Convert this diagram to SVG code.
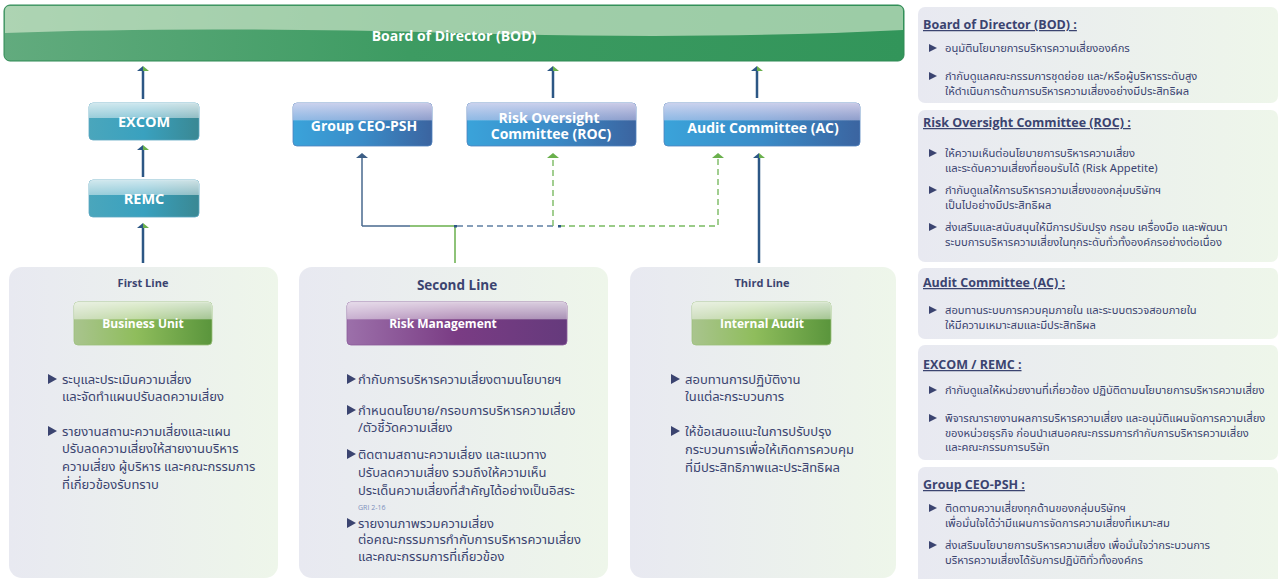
<svg xmlns="http://www.w3.org/2000/svg" width="1281" height="579" viewBox="0 0 1281 579">
  <defs>
    <linearGradient id="gBod" x1="0" y1="0" x2="1" y2="0">
      <stop offset="0" stop-color="#62ab7e"/>
      <stop offset="0.45" stop-color="#3d9b62"/>
      <stop offset="1" stop-color="#32955a"/>
    </linearGradient>
    <linearGradient id="gTeal" x1="0" y1="0" x2="1" y2="0">
      <stop offset="0" stop-color="#4aa6bc"/>
      <stop offset="0.5" stop-color="#39a1bf"/>
      <stop offset="1" stop-color="#3a8893"/>
    </linearGradient>
    <linearGradient id="gBlue" x1="0" y1="0" x2="1" y2="0">
      <stop offset="0" stop-color="#3aa3da"/>
      <stop offset="0.5" stop-color="#3a8cc8"/>
      <stop offset="1" stop-color="#3b64a0"/>
    </linearGradient>
    <linearGradient id="gGreen" x1="0" y1="0" x2="1" y2="0">
      <stop offset="0" stop-color="#a9c48e"/>
      <stop offset="0.45" stop-color="#8fbd5c"/>
      <stop offset="1" stop-color="#5a953c"/>
    </linearGradient>
    <linearGradient id="gPurple" x1="0" y1="0" x2="1" y2="0">
      <stop offset="0" stop-color="#9c70aa"/>
      <stop offset="0.5" stop-color="#7a3c84"/>
      <stop offset="1" stop-color="#653a7c"/>
    </linearGradient>
    <linearGradient id="gGloss" x1="0" y1="0" x2="0" y2="1">
      <stop offset="0" stop-color="#ffffff" stop-opacity="0.75"/>
      <stop offset="0.4" stop-color="#ffffff" stop-opacity="0.45"/>
      <stop offset="0.41" stop-color="#ffffff" stop-opacity="0"/>
      <stop offset="1" stop-color="#ffffff" stop-opacity="0"/>
    </linearGradient>
    <linearGradient id="gGlossBlue" x1="0" y1="0" x2="0" y2="1">
      <stop offset="0" stop-color="#e4dcf2" stop-opacity="0.85"/>
      <stop offset="0.4" stop-color="#d4cdee" stop-opacity="0.55"/>
      <stop offset="0.41" stop-color="#ffffff" stop-opacity="0"/>
      <stop offset="1" stop-color="#ffffff" stop-opacity="0"/>
    </linearGradient>
    <linearGradient id="gPanel" x1="0" y1="0" x2="1" y2="0">
      <stop offset="0" stop-color="#e8e9f1"/>
      <stop offset="1" stop-color="#eef6ea"/>
    </linearGradient>
  </defs>
  <style>
    .lbl{font-family:"Open Sans",Lato,"Liberation Sans",sans-serif;font-weight:700;fill:#ffffff;text-anchor:middle}
    .ptitle{font-family:"Open Sans",Lato,"Liberation Sans",sans-serif;font-weight:700;fill:#3b4470;text-anchor:middle}
    .th{font-family:"Noto Sans Thai","Noto Sans","DejaVu Sans",sans-serif;fill:#3b4470;font-size:13px}
    .ths{font-family:"Noto Sans Thai","Noto Sans","DejaVu Sans",sans-serif;fill:#3b4470;font-size:11.2px}
    .rtitle{font-family:"Open Sans",Lato,"Liberation Sans",sans-serif;font-weight:700;fill:#3b4470;font-size:12.5px;text-decoration:underline}
    .bul{fill:#3b4470}
    .panel{fill:url(#gPanel)}
    .ln{fill:none;stroke:#2c5785;stroke-width:2.5}
    .lnG{fill:none;stroke:#6ab04c;stroke-width:1.5}
    .dashG{fill:none;stroke:#7aba62;stroke-width:1.4;stroke-dasharray:6 4}
    .dashB{fill:none;stroke:#5d7fa3;stroke-width:1.4;stroke-dasharray:6 4}
    .ahB{fill:#2c5785}
    .ahG{fill:#6ab04c}
  </style>

  <!-- Board bar -->
  <g id="bod">
    <rect x="4" y="5" width="900" height="56" rx="6" fill="url(#gBod)" stroke="#2f8a55" stroke-width="1"/>
    <path d="M5 33 Q 200 26 454 33 T 903 30 L 903 11 Q 903 6 898 6 L 10 6 Q 5 6 5 11 Z" fill="#d6ead0" opacity="0.65"/>
    <text class="lbl" x="454" y="41" font-size="14">Board of Director (BOD)</text>
  </g>

  <!-- committee boxes -->
  <g id="excom">
    <rect x="89" y="103" width="110" height="37" rx="4" fill="url(#gTeal)" stroke="#5aa6c0" stroke-width="0.8"/>
    <rect x="89" y="103" width="110" height="37" rx="4" fill="url(#gGloss)"/>
    <text class="lbl" x="144" y="127" font-size="14.5">EXCOM</text>
  </g>
  <g id="remc">
    <rect x="89" y="180" width="110" height="37" rx="4" fill="url(#gTeal)" stroke="#5aa6c0" stroke-width="0.8"/>
    <rect x="89" y="180" width="110" height="37" rx="4" fill="url(#gGloss)"/>
    <text class="lbl" x="144" y="204" font-size="14.5">REMC</text>
  </g>
  <g id="group-ceo">
    <rect x="293" y="103" width="139" height="43" rx="4" fill="url(#gBlue)" stroke="#4f82bc" stroke-width="0.8"/>
    <rect x="293" y="103" width="139" height="43" rx="4" fill="url(#gGlossBlue)"/>
    <text class="lbl" x="364" y="131" font-size="14">Group CEO-PSH</text>
  </g>
  <g id="roc">
    <rect x="467" y="103" width="169" height="43" rx="4" fill="url(#gBlue)" stroke="#4f82bc" stroke-width="0.8"/>
    <rect x="467" y="103" width="169" height="43" rx="4" fill="url(#gGlossBlue)"/>
    <text class="lbl" x="549" y="123" font-size="14">Risk Oversight</text>
    <text class="lbl" x="551" y="139" font-size="14">Committee (ROC)</text>
  </g>
  <g id="ac">
    <rect x="664" y="103" width="196" height="43" rx="4" fill="url(#gBlue)" stroke="#4f82bc" stroke-width="0.8"/>
    <rect x="664" y="103" width="196" height="43" rx="4" fill="url(#gGlossBlue)"/>
    <text class="lbl" x="763" y="133" font-size="14">Audit Committee (AC)</text>
  </g>

  <!-- connectors -->
  <g id="connectors">
    <path class="ln" d="M143 99 V70 M143 177 V149 M143 263 V227 M553 98 V70 M757 98 V70 M759 263 V157"/>
    <path d="M362 226 V157 M362 226 H410" fill="none" stroke="#4a6a8e" stroke-width="1.5"/>
    <path d="M410 226 H455 M455 226 V263" class="lnG"/>
    <path class="dashB" d="M457 226 H553"/>
    <path class="dashG" d="M553 226 V157"/>
    <path class="dashG" d="M559 226 H718 V157"/>
    <rect x="454" y="225" width="3" height="2.5" fill="#2c5785"/>
    <rect x="558" y="225" width="3" height="2.5" fill="#2c5785"/>
    <!-- arrowheads: blue left half, green right half -->
    <path class="ahB" d="M137 71 L143 66 V71 Z"/><path class="ahG" d="M143 66 L149 71 H143 Z"/>
    <path class="ahB" d="M137 150 L143 145 V150 Z"/><path class="ahG" d="M143 145 L149 150 H143 Z"/>
    <path class="ahB" d="M137 228 L143 223 V228 Z"/><path class="ahG" d="M143 223 L149 228 H143 Z"/>
    <path class="ahB" d="M547 71 L553 66 V71 Z"/><path class="ahG" d="M553 66 L559 71 H553 Z"/>
    <path class="ahB" d="M751 71 L757 66 V71 Z"/><path class="ahG" d="M757 66 L763 71 H757 Z"/>
    <path class="ahB" d="M753 158 L759 153 V158 Z"/><path class="ahG" d="M759 153 L765 158 H759 Z"/>
    <path d="M356 158 L362 153 L368 158 Z" fill="#3c5e86"/>
    <path d="M547 158 L553 153 L559 158 Z" class="ahG"/>
    <path d="M712 158 L718 153 L724 158 Z" class="ahG"/>
  </g>

  <!-- First Line -->
  <g id="first-line">
    <rect class="panel" x="9" y="267" width="269" height="311" rx="13"/>
    <text class="ptitle" x="143" y="287" font-size="11">First Line</text>
    <g id="business-unit">
      <rect x="74" y="302" width="138" height="43" rx="4" fill="url(#gGreen)" stroke="#9cc07c" stroke-width="0.8"/>
      <rect x="74" y="302" width="138" height="43" rx="4" fill="url(#gGloss)"/>
      <text class="lbl" x="143" y="328" font-size="12">Business Unit</text>
    </g>
    <path class="bul" d="M48 374 L57 379 L48 384 Z"/>
    <text class="th" x="62" y="384">ระบุและประเมินความเสี่ยง</text>
    <text class="th" x="62" y="401">และจัดทำแผนปรับลดความเสี่ยง</text>
    <path class="bul" d="M48 426 L57 431 L48 436 Z"/>
    <text class="th" x="62" y="436">รายงานสถานะความเสี่ยงและแผน</text>
    <text class="th" x="62" y="453">ปรับลดความเสี่ยงให้สายงานบริหาร</text>
    <text class="th" x="62" y="471">ความเสี่ยง ผู้บริหาร และคณะกรรมการ</text>
    <text class="th" x="62" y="489">ที่เกี่ยวข้องรับทราบ</text>
  </g>

  <!-- Second Line -->
  <g id="second-line">
    <rect class="panel" x="299" y="267" width="309" height="311" rx="13"/>
    <text class="ptitle" x="457" y="290" font-size="13.5">Second Line</text>
    <g id="risk-management">
      <rect x="347" y="302" width="220" height="43" rx="4" fill="url(#gPurple)" stroke="#8a5a9a" stroke-width="0.8"/>
      <rect x="347" y="302" width="220" height="43" rx="4" fill="url(#gGloss)"/>
      <text class="lbl" x="443" y="328" font-size="12">Risk Management</text>
    </g>
    <path class="bul" d="M347 374 L356 379 L347 384 Z"/>
    <text class="th" x="358" y="384">กำกับการบริหารความเสี่ยงตามนโยบายฯ</text>
    <path class="bul" d="M347 405 L356 410 L347 415 Z"/>
    <text class="th" x="358" y="415">กำหนดนโยบาย/กรอบการบริหารความเสี่ยง</text>
    <text class="th" x="358" y="432">/ตัวชี้วัดความเสี่ยง</text>
    <path class="bul" d="M347 449 L356 454 L347 459 Z"/>
    <text class="th" x="358" y="459">ติดตามสถานะความเสี่ยง และแนวทาง</text>
    <text class="th" x="358" y="477">ปรับลดความเสี่ยง รวมถึงให้ความเห็น</text>
    <text class="th" x="358" y="495">ประเด็นความเสี่ยงที่สำคัญได้อย่างเป็นอิสระ</text>
    <text x="358" y="510" font-family="'Open Sans',Lato,'Liberation Sans',sans-serif" font-size="7" fill="#7d8fbd">GRI 2-16</text>
    <path class="bul" d="M347 518 L356 523 L347 528 Z"/>
    <text class="th" x="358" y="528">รายงานภาพรวมความเสี่ยง</text>
    <text class="th" x="358" y="544">ต่อคณะกรรมการกำกับการบริหารความเสี่ยง</text>
    <text class="th" x="358" y="561">และคณะกรรมการที่เกี่ยวข้อง</text>
  </g>

  <!-- Third Line -->
  <g id="third-line">
    <rect class="panel" x="630" y="267" width="266" height="311" rx="13"/>
    <text class="ptitle" x="762" y="287" font-size="11">Third Line</text>
    <g id="internal-audit">
      <rect x="692" y="302" width="139" height="43" rx="4" fill="url(#gGreen)" stroke="#9cc07c" stroke-width="0.8"/>
      <rect x="692" y="302" width="139" height="43" rx="4" fill="url(#gGloss)"/>
      <text class="lbl" x="762" y="328" font-size="12">Internal Audit</text>
    </g>
    <path class="bul" d="M671 374 L680 379 L671 384 Z"/>
    <text class="th" x="685" y="384">สอบทานการปฏิบัติงาน</text>
    <text class="th" x="685" y="401">ในแต่ละกระบวนการ</text>
    <path class="bul" d="M671 426 L680 431 L671 436 Z"/>
    <text class="th" x="685" y="436">ให้ข้อเสนอแนะในการปรับปรุง</text>
    <text class="th" x="685" y="454">กระบวนการเพื่อให้เกิดการควบคุม</text>
    <text class="th" x="685" y="472">ที่มีประสิทธิภาพและประสิทธิผล</text>
  </g>

  <!-- role descriptions -->
  <g id="desc-bod">
    <rect class="panel" x="918" y="7" width="360" height="96" rx="7"/>
    <text class="rtitle" x="923" y="29">Board of Director (BOD) :</text>
    <path class="bul" d="M929 44 L937 48 L929 52 Z"/>
    <text class="ths" x="945" y="52">อนุมัตินโยบายการบริหารความเสี่ยงองค์กร</text>
    <path class="bul" d="M929 72 L937 76 L929 80 Z"/>
    <text class="ths" x="945" y="80">กำกับดูแลคณะกรรมการชุดย่อย และ/หรือผู้บริหารระดับสูง</text>
    <text class="ths" x="945" y="95">ให้ดำเนินการด้านการบริหารความเสี่ยงอย่างมีประสิทธิผล</text>
  </g>
  <g id="desc-roc">
    <rect class="panel" x="918" y="110" width="360" height="152" rx="7"/>
    <text class="rtitle" x="923" y="127">Risk Oversight Committee (ROC) :</text>
    <path class="bul" d="M929 149 L937 153 L929 157 Z"/>
    <text class="ths" x="945" y="157">ให้ความเห็นต่อนโยบายการบริหารความเสี่ยง</text>
    <text class="ths" x="945" y="172">และระดับความเสี่ยงที่ยอมรับได้ (Risk Appetite)</text>
    <path class="bul" d="M929 186 L937 190 L929 194 Z"/>
    <text class="ths" x="945" y="194">กำกับดูแลให้การบริหารความเสี่ยงของกลุ่มบริษัทฯ</text>
    <text class="ths" x="945" y="209">เป็นไปอย่างมีประสิทธิผล</text>
    <path class="bul" d="M929 223 L937 227 L929 231 Z"/>
    <text class="ths" x="945" y="231">ส่งเสริมและสนับสนุนให้มีการปรับปรุง กรอบ เครื่องมือ และพัฒนา</text>
    <text class="ths" x="945" y="246">ระบบการบริหารความเสี่ยงในทุกระดับทั่วทั้งองค์กรอย่างต่อเนื่อง</text>
  </g>
  <g id="desc-ac">
    <rect class="panel" x="918" y="268" width="360" height="71" rx="7"/>
    <text class="rtitle" x="923" y="287">Audit Committee (AC) :</text>
    <path class="bul" d="M929 306 L937 310 L929 314 Z"/>
    <text class="ths" x="945" y="314">สอบทานระบบการควบคุมภายใน และระบบตรวจสอบภายใน</text>
    <text class="ths" x="945" y="329">ให้มีความเหมาะสมและมีประสิทธิผล</text>
  </g>
  <g id="desc-excom">
    <rect class="panel" x="918" y="345" width="360" height="115" rx="7"/>
    <text class="rtitle" x="923" y="369">EXCOM / REMC :</text>
    <path class="bul" d="M929 386 L937 390 L929 394 Z"/>
    <text class="ths" x="945" y="394">กำกับดูแลให้หน่วยงานที่เกี่ยวข้อง ปฏิบัติตามนโยบายการบริหารความเสี่ยง</text>
    <path class="bul" d="M929 414 L937 418 L929 422 Z"/>
    <text class="ths" x="945" y="422">พิจารณารายงานผลการบริหารความเสี่ยง และอนุมัติแผนจัดการความเสี่ยง</text>
    <text class="ths" x="945" y="437">ของหน่วยธุรกิจ ก่อนนำเสนอคณะกรรมการกำกับการบริหารความเสี่ยง</text>
    <text class="ths" x="945" y="451">และคณะกรรมการบริษัท</text>
  </g>
  <g id="desc-ceo">
    <rect class="panel" x="918" y="467" width="360" height="120" rx="7"/>
    <text class="rtitle" x="923" y="489">Group CEO-PSH :</text>
    <path class="bul" d="M929 504 L937 508 L929 512 Z"/>
    <text class="ths" x="945" y="512">ติดตามความเสี่ยงทุกด้านของกลุ่มบริษัทฯ</text>
    <text class="ths" x="945" y="527">เพื่อมั่นใจได้ว่ามีแผนการจัดการความเสี่ยงที่เหมาะสม</text>
    <path class="bul" d="M929 541 L937 545 L929 549 Z"/>
    <text class="ths" x="945" y="549">ส่งเสริมนโยบายการบริหารความเสี่ยง เพื่อมั่นใจว่ากระบวนการ</text>
    <text class="ths" x="945" y="564">บริหารความเสี่ยงได้รับการปฏิบัติทั่วทั้งองค์กร</text>
  </g>
</svg>
